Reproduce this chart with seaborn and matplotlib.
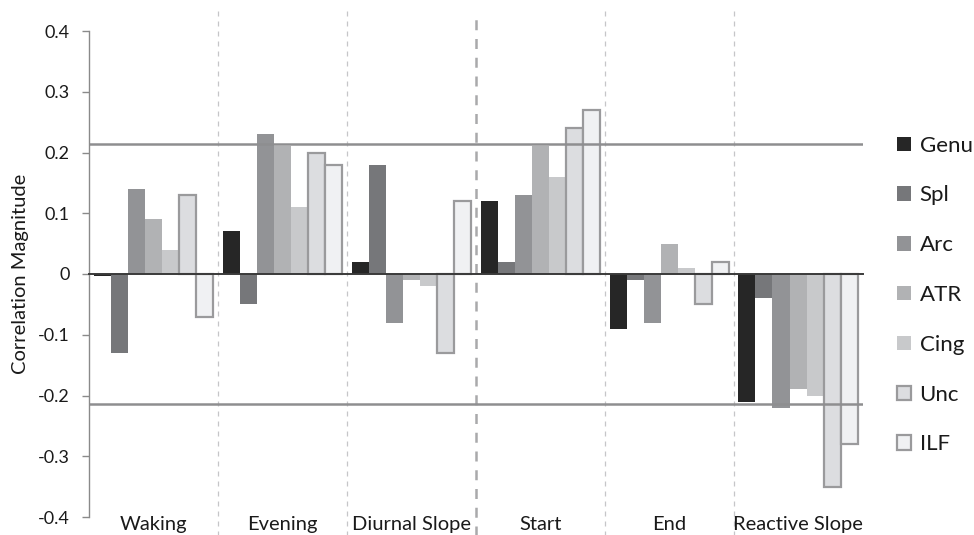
import matplotlib
matplotlib.use("Agg")
import matplotlib.pyplot as plt
import pandas as pd
import seaborn as sns

# Cortisol measures (x categories) and white-matter tracts (bar series)
measures = ["Waking", "Evening", "Diurnal Slope", "Start", "End", "Reactive Slope"]
tracts = ["Genu", "Spl", "Arc", "ATR", "Cing", "Unc", "ILF"]

genu = [-0.003, 0.07, 0.02, 0.12, -0.09, -0.21]
spl = [-0.13, -0.05, 0.18, 0.02, -0.01, -0.04]
arc = [0.14, 0.23, -0.08, 0.13, -0.08, -0.22]
atr = [0.09, 0.21, -0.01, 0.21, 0.05, -0.19]
cing = [0.04, 0.11, -0.02, 0.16, 0.01, -0.20]
unc = [0.13, 0.20, -0.13, 0.24, -0.05, -0.35]
ilf = [-0.07, 0.18, 0.12, 0.27, 0.02, -0.28]

significance = 0.214
y_ticks = [-0.4, -0.3, -0.2, -0.1, 0.0, 0.1, 0.2, 0.3, 0.4]
y_tick_labels = ["-0.4", "-0.3", "-0.2", "-0.1", "0", "0.1", "0.2", "0.3", "0.4"]

series = [genu, spl, arc, atr, cing, unc, ilf]
df = pd.DataFrame(
    [(m, t, v) for t, vals in zip(tracts, series) for m, v in zip(measures, vals)],
    columns=["measure", "tract", "r"],
)

colors = ["#262626", "#76777a", "#929396", "#b1b2b4", "#c8c9cb", "#dcdde0", "#f0f1f3"]
outlined = {"Unc", "ILF"}

sns.set_style("white")
plt.rcParams["font.family"] = ["Lato", "DejaVu Sans"]

fig = plt.figure(figsize=(9.74, 5.35), dpi=100)
ax = fig.add_axes([89 / 974, 1 - 517 / 535, (862.5 - 89) / 974, 486 / 535])

sns.barplot(
    data=df, x="measure", y="r", hue="tract", order=measures, hue_order=tracts,
    palette=colors, saturation=1, width=0.925, gap=0, ax=ax, legend=False,
    linewidth=0,
)

for name, cont in zip(tracts, ax.containers):
    for p in cont.patches:
        if name in outlined:
            p.set_edgecolor("#9a9a9c")
            p.set_linewidth(1.6)
        else:
            p.set_linewidth(0)

ax.set_xlim(-0.5, len(measures) - 0.5)
ax.set_ylim(-0.4, 0.4)

# significance thresholds
for yv in (significance, -significance):
    ax.axhline(yv, color="#8e8e90", lw=1.8, zorder=1)

# category separators
for i in range(1, len(measures)):
    x = i - 0.5
    if i == 3:
        ax.axvline(x, ymin=-0.04, ymax=1.042, color="#a9a9ab", lw=1.8,
                   ls=(0, (4, 3.5)), clip_on=False, zorder=0)
    else:
        ax.axvline(x, ymin=-0.04, ymax=1.042, color="#c6c6c8", lw=0.9,
                   ls=(0, (4, 4)), clip_on=False, zorder=0)

# axes styling
for s in ("top", "right"):
    ax.spines[s].set_visible(False)
ax.spines["left"].set_color("#8a8a8a")
ax.spines["left"].set_linewidth(1.0)
ax.spines["bottom"].set_position(("data", 0))
ax.spines["bottom"].set_color("#3a3a3a")
ax.spines["bottom"].set_linewidth(1.4)
ax.spines["bottom"].set_zorder(4)

ax.set_xticks([i - 0.5 for i in range(len(measures) + 1)])
ax.set_xticklabels([""] * (len(measures) + 1))
ax.tick_params(axis="x", direction="out", length=4, width=1.2, color="#3a3a3a")
ax.set_yticks(y_ticks)
ax.set_yticklabels(y_tick_labels)
ax.tick_params(axis="y", direction="out", length=5, width=1.0, color="#8a8a8a",
               labelsize=13, labelcolor="#1a1a1a", pad=9, left=True)
ax.set_xlabel("")
ax.set_ylabel("Correlation Magnitude", fontsize=14.5, color="#1a1a1a", labelpad=6)
ax.grid(False)

for i, m in enumerate(measures):
    ax.text(i, -0.413, m, ha="center", va="center", fontsize=14.5,
            color="#1a1a1a", clip_on=False)

handles = [cont.patches[0] for cont in ax.containers]
leg = fig.legend(handles, tracts, loc="center left",
                 bbox_to_anchor=(888 / 974, 1 - 295 / 535), frameon=False,
                 fontsize=16, handlelength=0.62, handleheight=0.62,
                 handletextpad=0.4, labelspacing=1.34, borderaxespad=0)
for t in leg.get_texts():
    t.set_color("#1a1a1a")

fig.savefig("out.png", dpi=100)
